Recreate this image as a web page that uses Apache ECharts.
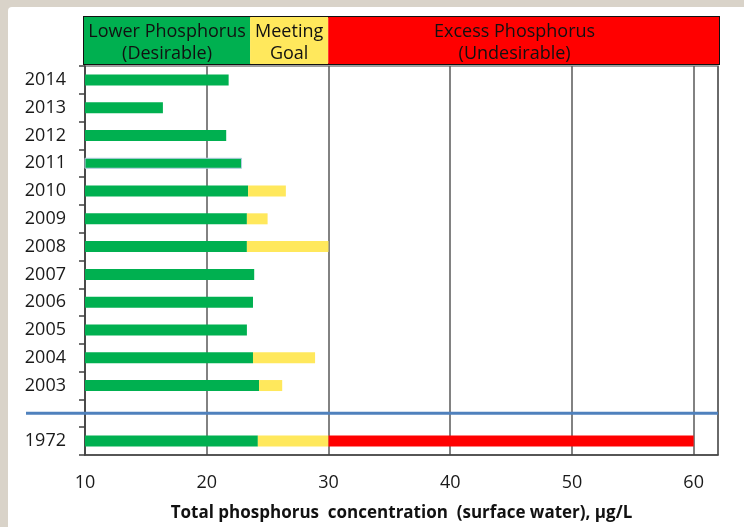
<!DOCTYPE html>
<html>
<head>
<meta charset="utf-8">
<script src="https://cdn.jsdelivr.net/npm/echarts@6/dist/echarts.min.js"></script>
<style>
  html, body { margin: 0; padding: 0; background: #d9d3c9; }
  #panel { position: absolute; left: 8px; top: 7px; width: 736px; height: 520px; background: #fff; border-top-left-radius: 4px; }
  #chart { position: absolute; left: 0; top: 0; width: 744px; height: 527px; }
</style>
</head>
<body>
<div id="panel"></div>
<div id="chart"></div>
<script>
// bottom to top, '' is the gap row
const years = ['1972', '', '2003', '2004', '2005', '2006', '2007', '2008', '2009', '2010', '2011', '2012', '2013', '2014']
// where each colour part of a bar ends, µg/L
const greenTo = [24.2, null, 24.3, 23.8, 23.3, 23.8, 23.9, 23.3, 23.3, 23.4, 22.9, 21.6, 16.4, 21.8]
const yellowTo = [30.0, null, 26.2, 28.9, null, null, null, 30.0, 25.0, 26.5, null, null, null, null]
const redTo = [60.0, null, null, null, null, null, null, null, null, null, null, null, null, null]

// header zones
const zoneNames = ['Lower Phosphorus\n(Desirable)', 'Meeting\nGoal', 'Excess Phosphorus\n(Undesirable)']
const zoneTo = [23.6, 30, 62]

const xTicks = [10, 20, 30, 40, 50, 60]

const GREEN = '#00b050'
const YELLOW = '#ffe85c'
const RED = '#ff0000'
const FONT = 'Open Sans'

function diff(top, base) {
  return top.map((v, i) => (v == null || base[i] == null) ? null : +(v - base[i]).toFixed(2))
}

const greenData = greenTo.map((v, i) => {
  if (years[i] === '2011') {
    return { value: v, itemStyle: { borderColor: '#b8cce4', borderWidth: 1 } }
  }
  return v
})

const chart = echarts.init(document.getElementById('chart'), null, { renderer: 'canvas' })

const option = {
  backgroundColor: 'transparent',
  animation: false,
  textStyle: { fontFamily: FONT },
  grid: [
    { left: 85, right: 26, top: 66, bottom: 71, show: true, borderColor: '#7f7f7f', borderWidth: 1.5, containLabel: false },
    { left: 84, right: 25, top: 17, height: 47, show: true, borderColor: '#111', borderWidth: 2, containLabel: false }
  ],
  xAxis: [
    {
      gridIndex: 0,
      type: 'value',
      min: 10,
      max: 62,
      interval: 10,
      name: 'Total phosphorus  concentration  (surface water), µg/L',
      nameLocation: 'middle',
      nameGap: 50,
      nameTextStyle: { fontFamily: FONT, fontWeight: 'bold', fontSize: 17, color: '#111' },
      axisLine: { show: true, lineStyle: { color: '#404040', width: 1.5 } },
      axisTick: { show: false },
      axisLabel: {
        fontSize: 18, color: '#1a1a1a', margin: 19,
        formatter: v => xTicks.indexOf(v) >= 0 ? String(v) : ''
      },
      splitLine: { show: true, lineStyle: { color: '#595959', width: 1.5 } }
    },
    {
      gridIndex: 1,
      type: 'value',
      min: 10,
      max: 62,
      show: false
    }
  ],
  yAxis: [
    {
      gridIndex: 0,
      type: 'category',
      data: years,
      axisLine: { show: true, lineStyle: { color: '#404040', width: 1.5 } },
      axisTick: { show: true, length: 6, interval: 0, lineStyle: { color: '#404040', width: 1.5 } },
      axisLabel: { fontSize: 18, color: '#1a1a1a', margin: 19, interval: 0 },
      splitLine: { show: false }
    },
    {
      gridIndex: 1,
      type: 'category',
      data: ['zone'],
      show: false
    }
  ],
  series: [
    {
      type: 'bar', name: 'green', stack: 'p', xAxisIndex: 0, yAxisIndex: 0,
      barWidth: 11, data: greenData, itemStyle: { color: GREEN }, z: 3
    },
    {
      type: 'bar', name: 'yellow', stack: 'p', xAxisIndex: 0, yAxisIndex: 0,
      barWidth: 11, data: diff(yellowTo, greenTo), itemStyle: { color: YELLOW }, z: 3
    },
    {
      type: 'bar', name: 'red', stack: 'p', xAxisIndex: 0, yAxisIndex: 0,
      barWidth: 11, data: diff(redTo, yellowTo), itemStyle: { color: RED }, z: 3
    }
  ].concat(zoneNames.map((name, i) => ({
    type: 'bar', name: 'zone' + i, stack: 'zone', xAxisIndex: 1, yAxisIndex: 1,
    barWidth: '100%',
    data: [i === 0 ? zoneTo[0] : +(zoneTo[i] - zoneTo[i - 1]).toFixed(2)],
    itemStyle: { color: [GREEN, YELLOW, RED][i] },
    label: {
      show: true, position: 'inside', formatter: name,
      fontFamily: FONT, fontSize: 18, lineHeight: 22, color: '#111',
      offset: i === 2 ? [-9, 2] : [0, 2]
    },
    z: 1
  })))
}

chart.setOption(option)

// blue separator between 2003 and 1972, drawn across the gap row
const gapY = chart.convertToPixel({ yAxisIndex: 0 }, 1)
const rightX = chart.convertToPixel({ xAxisIndex: 0 }, 62)
chart.setOption({
  graphic: [{
    type: 'line',
    shape: { x1: 26, y1: gapY, x2: rightX, y2: gapY },
    style: { stroke: '#4f81bd', lineWidth: 3 },
    z: 10
  }]
})
</script>
</body>
</html>
